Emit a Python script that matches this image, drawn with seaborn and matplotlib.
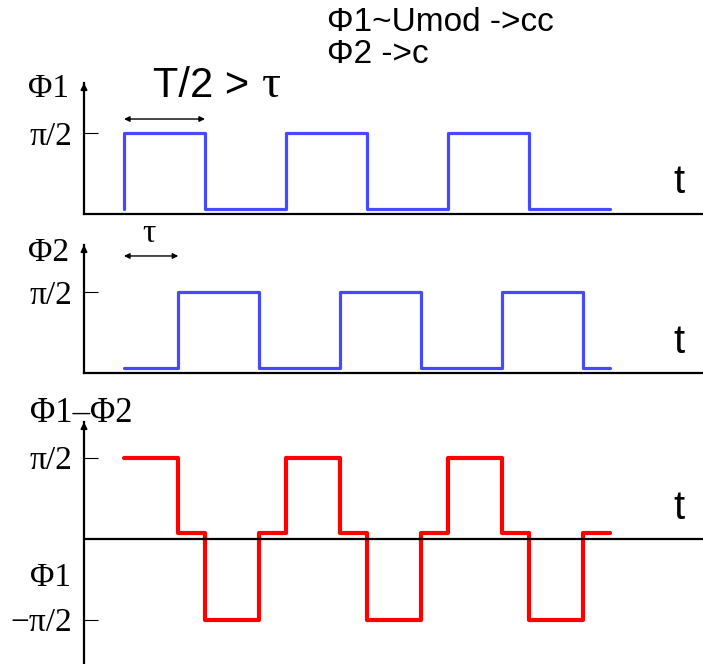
import matplotlib
matplotlib.use("Agg")
import matplotlib.pyplot as plt
import seaborn as sns
import numpy as np

# ---- data (t in units of T/2, phase in units of pi/2) ----
t_phi1 = [0, 0, 1, 2, 3, 4, 5, 6]
phi1 = [0, 1, 0, 1, 0, 1, 0, 0]

t_phi2 = [0, 0.67, 1.67, 2.67, 3.67, 4.67, 5.67, 6]
phi2 = [0, 1, 0, 1, 0, 1, 0, 0]

t_diff = [0, 0.67, 1, 1.67, 2, 2.67, 3, 3.67, 4, 4.67, 5, 5.67, 6]
diff = [1, 0.064, -1, 0.064, 1, 0.064, -1, 0.064, 1, 0.064, -1, 0.064, 0.064]

tau = 0.67
half_period = 1.0

sns.set_style("white")
plt.rcParams["font.family"] = ["Liberation Sans", "DejaVu Sans"]
plt.rcParams["text.color"] = "black"
plt.rcParams["ytick.labelcolor"] = "black"
plt.rcParams["ytick.color"] = "black"

W, H = 703, 664
fig = plt.figure(figsize=(W / 100, H / 100), dpi=100)

def axes_px(left, top, right, bottom):
    return fig.add_axes([left / W, 1 - bottom / H, (right - left) / W, (bottom - top) / H])

ax1 = axes_px(84, 83, 703, 213.5)
ax2 = axes_px(84, 245, 703, 373)
ax3 = axes_px(84, 422, 703, 664)

xlim = (-40 / 81, 579 / 81)
blue = "#4848ff"
red = "#ff0000"
serif = ["Liberation Serif", "DejaVu Serif"]
fs_serif = 24

sns.lineplot(x=t_phi1, y=phi1, ax=ax1, color=blue, lw=2.3, drawstyle="steps-post",
             estimator=None, sort=False)
sns.lineplot(x=t_phi2, y=phi2, ax=ax2, color=blue, lw=2.3, drawstyle="steps-post",
             estimator=None, sort=False)
sns.lineplot(x=t_diff, y=diff, ax=ax3, color=red, lw=3.0, drawstyle="steps-post",
             estimator=None, sort=False)

ax1.set_ylim(-4.5 / 76, 126 / 76)
ax2.set_ylim(-5 / 76, 123 / 76)
ax3.set_ylim(-125.5 / 81, 116.5 / 81)

for ax in (ax1, ax2, ax3):
    ax.set_xlim(*xlim)
    ax.set_facecolor("none")
    ax.set_xlabel("")
    ax.set_ylabel("")
    ax.set_xticks([])
    for s in ("top", "right"):
        ax.spines[s].set_visible(False)
    ax.spines["left"].set_color("black")
    ax.spines["left"].set_linewidth(1.6)
    ax.spines["bottom"].set_color("black")
    ax.spines["bottom"].set_linewidth(1.6)
    ax.tick_params(axis="y", direction="in", length=10, width=0.8, color="black",
                   labelcolor="black", pad=8.6, labelsize=fs_serif, left=True)
    ax.annotate("", xy=(0, 1), xytext=(0, 0.93), xycoords="axes fraction",
                arrowprops=dict(arrowstyle="-|>", color="black", lw=1.4,
                                mutation_scale=9, shrinkA=0, shrinkB=0),
                annotation_clip=False)

ax3.spines["bottom"].set_visible(False)
ax3.axhline(0, color="black", lw=1.6)

ax1.set_yticks([1])
ax1.set_yticklabels(["π/2"], family=serif)
ax2.set_yticks([1])
ax2.set_yticklabels(["π/2"], family=serif)
ax3.set_yticks([1, -1])
ax3.set_yticklabels(["π/2", "−π/2"], family=serif)

# double arrows
ax1.annotate("", xy=(half_period, 1.184), xytext=(0, 1.184),
             arrowprops=dict(arrowstyle="<|-|>", color="black", lw=1.0,
                             mutation_scale=8, shrinkA=0, shrinkB=0),
             annotation_clip=False)
ax2.annotate("", xy=(tau, 1.474), xytext=(0, 1.474),
             arrowprops=dict(arrowstyle="<|-|>", color="black", lw=1.0,
                             mutation_scale=8, shrinkA=0, shrinkB=0),
             annotation_clip=False)
ax2.text(tau / 2 - 0.03, 1.76, "τ", family=serif, fontsize=fs_serif, ha="center", va="center")

def ftext(x, y, s, **kw):
    fig.text(x / W, 1 - y / H, s, **kw)

# left labels
ftext(28, 89, "Φ1", family=serif, fontsize=fs_serif, ha="left", va="center")
ftext(28, 253, "Φ2", family=serif, fontsize=fs_serif, ha="left", va="center")
ftext(30, 414, "Φ1–Φ2", family=serif, fontsize=fs_serif + 1, ha="left", va="center")
ftext(30, 578, "Φ1", family=serif, fontsize=fs_serif, ha="left", va="center")

# t labels
for y in (182, 342, 508):
    ftext(679, y, "t", fontsize=29, ha="center", va="center")

# titles
ftext(153, 97, "T/2 >", fontsize=30, ha="left", va="baseline")
ftext(262, 97, "τ", family=serif, fontsize=34, ha="left", va="baseline")
ftext(327, 31, "Φ1~Umod ->cc", fontsize=24, ha="left", va="baseline")
ftext(327, 63, "Φ2 ->c", fontsize=24, ha="left", va="baseline")

fig.savefig("out.png", dpi=100)
